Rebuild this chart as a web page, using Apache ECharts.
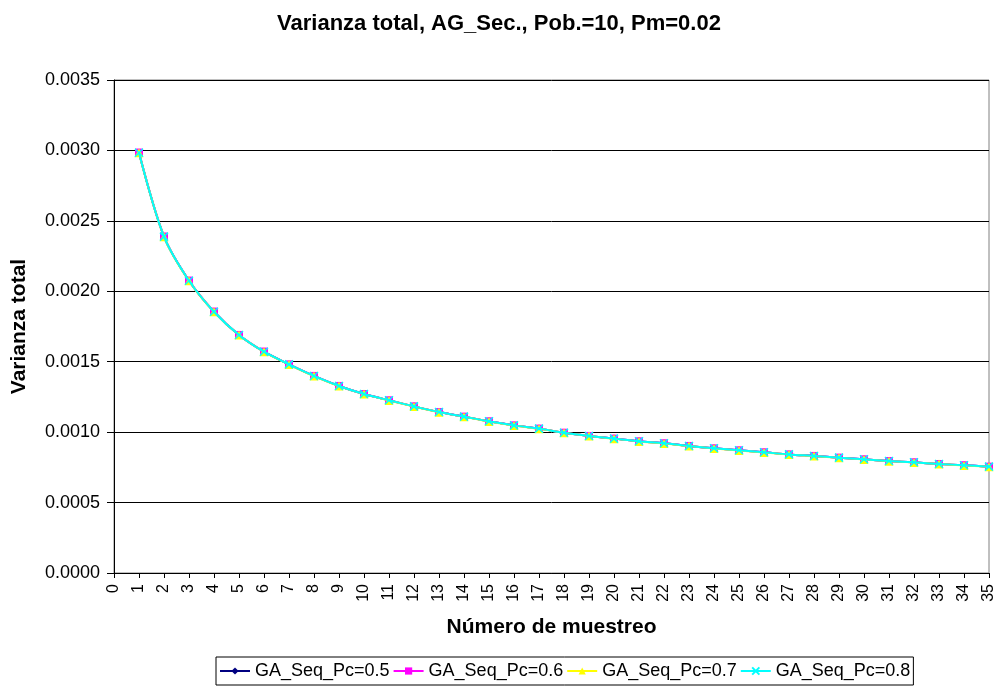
<!DOCTYPE html>
<html>
<head>
<meta charset="utf-8">
<title>Varianza total</title>
<script src="https://cdn.jsdelivr.net/npm/echarts@6/dist/echarts.min.js"></script>
<style>
  html, body { margin: 0; padding: 0; background: #fff; }
  #chart { width: 998px; height: 686px; }
</style>
</head>
<body>
<div id="chart"></div>
<script>
// Sample numbers (x axis) and total variance for each crossover probability
const muestreos = [1,2,3,4,5,6,7,8,9,10,11,12,13,14,15,16,17,18,19,20,21,22,23,24,25,26,27,28,29,30,31,32,33,34,35];

const pc05 = [0.002984,0.002388,0.002075,0.001855,0.001690,0.001571,0.001481,0.001399,0.001328,0.001271,
              0.001226,0.001183,0.001143,0.001110,0.001077,0.001048,0.001025,0.000996,0.000973,0.000954,
              0.000935,0.000921,0.000902,0.000885,0.000871,0.000857,0.000842,0.000831,0.000819,0.000807,
              0.000795,0.000786,0.000774,0.000765,0.000755];
const pc06 = [0.002985,0.002389,0.002076,0.001856,0.001690,0.001572,0.001481,0.001399,0.001328,0.001271,
              0.001226,0.001183,0.001143,0.001110,0.001077,0.001048,0.001025,0.000996,0.000973,0.000954,
              0.000935,0.000921,0.000902,0.000885,0.000871,0.000857,0.000842,0.000831,0.000819,0.000807,
              0.000795,0.000786,0.000774,0.000765,0.000755];
const pc07 = [0.002983,0.002387,0.002074,0.001854,0.001689,0.001570,0.001480,0.001398,0.001327,0.001270,
              0.001225,0.001182,0.001142,0.001109,0.001076,0.001047,0.001024,0.000995,0.000972,0.000953,
              0.000934,0.000920,0.000901,0.000884,0.000870,0.000856,0.000841,0.000830,0.000818,0.000806,
              0.000794,0.000785,0.000773,0.000764,0.000754];
const pc08 = [0.002984,0.002388,0.002075,0.001855,0.001690,0.001571,0.001481,0.001399,0.001328,0.001271,
              0.001226,0.001183,0.001143,0.001110,0.001077,0.001048,0.001025,0.000996,0.000973,0.000954,
              0.000935,0.000921,0.000902,0.000885,0.000871,0.000857,0.000842,0.000831,0.000819,0.000807,
              0.000795,0.000786,0.000774,0.000765,0.000755];

const seriesNames = ['GA_Seq_Pc=0.5', 'GA_Seq_Pc=0.6', 'GA_Seq_Pc=0.7', 'GA_Seq_Pc=0.8'];
const seriesData = [pc05, pc06, pc07, pc08];
const seriesColors = ['#000080', '#FF00FF', '#FFFF00', '#00FFFF'];
const seriesSymbols = ['diamond', 'rect', 'triangle', 'path://M0,0L10,10M10,0L0,10'];

const font = 'Arial, "Liberation Sans", sans-serif';

const chart = echarts.init(document.getElementById('chart'), null, { renderer: 'canvas' });

const series = seriesNames.map((name, i) => ({
  name: name,
  type: 'line',
  smooth: 0.3,
  data: muestreos.map((m, k) => [m, seriesData[i][k]]),
  symbol: seriesSymbols[i],
  symbolSize: i === 2 ? 9 : 8,
  showAllSymbol: true,
  lineStyle: { color: seriesColors[i], width: 2 },
  itemStyle: i === 3
    ? { color: 'transparent', borderColor: seriesColors[i], borderWidth: 1.5 }
    : { color: seriesColors[i], borderColor: seriesColors[i], borderWidth: 0 },
  emphasis: { disabled: true },
  animation: false,
  z: 2 + i
}));

chart.setOption({
  backgroundColor: '#ffffff',
  animation: false,
  title: {
    text: 'Varianza total, AG_Sec., Pob.=10, Pm=0.02',
    left: 'center',
    top: 8,
    textStyle: { fontFamily: font, fontSize: 22, fontWeight: 'bold', color: '#000' }
  },
  grid: {
    left: 114,
    right: 9,
    top: 80,
    bottom: 113,
    show: true,
    borderColor: '#808080',
    borderWidth: 1,
    backgroundColor: 'transparent'
  },
  xAxis: {
    type: 'value',
    min: 0,
    max: 35,
    interval: 1,
    name: 'Número de muestreo',
    nameLocation: 'middle',
    nameGap: 44,
    nameTextStyle: { fontFamily: font, fontSize: 21, fontWeight: 'bold', color: '#000' },
    axisLine: { show: true, lineStyle: { color: '#000', width: 1 } },
    axisTick: { show: true, length: 5, lineStyle: { color: '#000' } },
    axisLabel: {
      rotate: 90,
      margin: 11,
      fontFamily: font,
      fontSize: 16,
      color: '#000',
      showMinLabel: true,
      showMaxLabel: true
    },
    splitLine: { show: false }
  },
  yAxis: {
    type: 'value',
    min: 0,
    max: 0.0035,
    interval: 0.0005,
    name: 'Varianza total',
    nameLocation: 'middle',
    nameGap: 84,
    nameTextStyle: { fontFamily: font, fontSize: 21, fontWeight: 'bold', color: '#000' },
    axisLine: { show: true, lineStyle: { color: '#000', width: 1 } },
    axisTick: { show: true, length: 7, lineStyle: { color: '#000' } },
    axisLabel: {
      margin: 14,
      fontFamily: font,
      fontSize: 18,
      color: '#000',
      formatter: v => v.toFixed(4)
    },
    splitLine: { show: true, lineStyle: { color: '#000', width: 1 } }
  },
  legend: {
    data: seriesNames,
    bottom: 1,
    left: 216,
    orient: 'horizontal',
    itemWidth: 30,
    itemHeight: 9,
    itemGap: 3,
    padding: [5, 3, 5, 3],
    borderColor: '#000',
    borderWidth: 1,
    textStyle: { fontFamily: font, fontSize: 18, color: '#000' }
  },
  series: series
});
</script>
</body>
</html>
